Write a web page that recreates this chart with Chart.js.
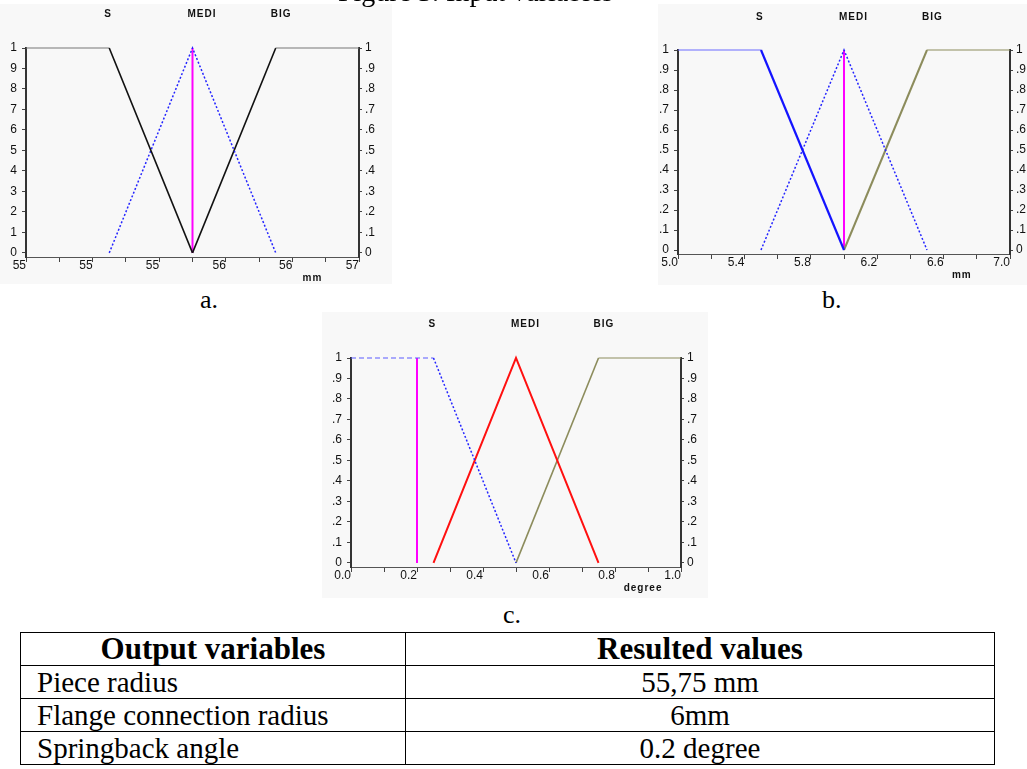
<!DOCTYPE html>
<html>
<head>
<meta charset="utf-8">
<script src="https://cdn.jsdelivr.net/npm/chart.js@4.4.1/dist/chart.umd.min.js"></script>
<style>
  body { margin: 0; width: 1027px; height: 769px; overflow: hidden; background: #fff; position: relative; font-family: "Liberation Serif", "Times New Roman", serif; }
  .box { position: absolute; background: #f8f8f8; }
  .cap { position: absolute; font-size: 26px; line-height: 26px; color: #000; }
  table { position: absolute; left: 20px; top: 632px; width: 974px; table-layout: fixed; border-collapse: collapse; font-size: 29px; }
  td, th { border: 1.5px solid #000; height: 32px; line-height: 30px; padding: 0 16px; white-space: nowrap; }
  th { font-weight: bold; text-align: center; font-size: 31px; }
  td.val { text-align: center; }
</style>
</head>
<body>
<div class="cap" style="left:338px; top:-22px; font-size:28px; line-height:28px; z-index:2;">Figure 3. Input variables</div>

<div class="box" style="left:0; top:4px; width:392px; height:280px;"><canvas id="chartA"></canvas></div>
<div class="box" style="left:658px; top:4px; width:369px; height:281px;"><canvas id="chartB"></canvas></div>
<div class="box" style="left:322px; top:312px; width:386px; height:286px;"><canvas id="chartC"></canvas></div>

<div class="cap" style="left:200px; top:287px;">a.</div>
<div class="cap" style="left:822px; top:287px;">b.</div>
<div class="cap" style="left:503px; top:602px;">c.</div>

<table>
  <colgroup><col style="width:385px"><col style="width:589px"></colgroup>
  <tr><th>Output variables</th><th>Resulted values</th></tr>
  <tr><td>Piece radius</td><td class="val">55,75 mm</td></tr>
  <tr><td>Flange connection radius</td><td class="val">6mm</td></tr>
  <tr><td>Springback angle</td><td class="val">0.2 degree</td></tr>
</table>

<script>
// term names shown above every chart
const termNames = ["S", "MEDI", "BIG"];

// membership axis (shared by all three)
const yTickVals = [0, 0.1, 0.2, 0.3, 0.4, 0.5, 0.6, 0.7, 0.8, 0.9, 1];
const yLabels = ["0", ".1", ".2", ".3", ".4", ".5", ".6", ".7", ".8", ".9", "1"];
const yLabelsCut = ["0", "1", "2", "3", "4", "5", "6", "7", "8", "9", "1"];  // chart a, left side is cropped

// a. piece radius (mm)
const aTickVals = [55, 55.15, 55.3, 55.45, 55.6, 55.75, 55.9, 56.05, 56.2, 56.35, 56.5];
const aTickLabels = ["55", "", "55", "", "55", "", "56", "", "56", "", "57"];
const aS = [[55, 1], [55.375, 1], [55.75, 0]];
const aMedi = [[55.375, 0], [55.75, 1], [56.125, 0]];
const aBig = [[55.75, 0], [56.125, 1], [56.5, 1]];
const aOut = [[55.75, 0], [55.75, 1]];
const aTermAt = [55.375, 55.75, 56.125];

// b. flange connection radius (mm)
const bTickVals = [5.0, 5.2, 5.4, 5.6, 5.8, 6.0, 6.2, 6.4, 6.6, 6.8, 7.0];
const bTickLabels = ["5.0", "", "5.4", "", "5.8", "", "6.2", "", "6.6", "", "7.0"];
const bS = [[5.0, 1], [5.5, 1], [6.0, 0]];
const bMedi = [[5.5, 0], [6.0, 1], [6.5, 0]];
const bBig = [[6.0, 0], [6.5, 1], [7.0, 1]];
const bOut = [[6.0, 0], [6.0, 1]];
const bTermAt = [5.5, 6.0, 6.5];

// c. springback angle (degree)
const cTickVals = [0, 0.1, 0.2, 0.3, 0.4, 0.5, 0.6, 0.7, 0.8, 0.9, 1.0];
const cTickLabels = ["0.0", "", "0.2", "", "0.4", "", "0.6", "", "0.8", "", "1.0"];
const cS = [[0, 1], [0.25, 1], [0.5, 0]];
const cMedi = [[0.25, 0], [0.5, 1], [0.75, 0]];
const cBig = [[0.5, 0], [0.75, 1], [1.0, 1]];
const cOut = [[0.2, 0], [0.2, 1]];
const cTermAt = [0.25, 0.5, 0.75];

// draws S / MEDI / BIG on top and the unit under the x axis
const termLabels = {
    id: "termLabels",
    afterDraw(chart, args, opts) {
        const ctx = chart.ctx;
        const x = chart.scales.x;
        const area = chart.chartArea;
        ctx.save();
        ctx.fillStyle = "#111";
        ctx.font = 'bold 10px "Liberation Sans"';
        ctx.letterSpacing = "1px";
        ctx.textBaseline = "middle";
        ctx.textAlign = "left";
        termNames.forEach((n, i) => {
            ctx.fillText(n, x.getPixelForValue(opts.at[i]) - 5, opts.y);
        });
        ctx.textAlign = "center";
        ctx.fillText(opts.unit, area.left + area.width * opts.unitAt, area.bottom + 21);
        ctx.restore();
    }
};

function line(pts, color, width, dash, top) {
    let ds = {
        data: pts.map(p => ({ x: p[0], y: p[1] })),
        borderColor: color,
        borderWidth: width,
        borderDash: dash || [],
        pointRadius: 0,
        fill: false,
        tension: 0,
        clip: 6
    };
    if (top) {
        // the flat shoulder at 1 is drawn thinner
        const flat = c => c.p0.parsed.y === 1 && c.p1.parsed.y === 1;
        ds.segment = {
            borderColor: c => flat(c) ? top.color : undefined,
            borderWidth: c => flat(c) ? top.width : undefined,
            borderDash: c => flat(c) ? (top.dash || []) : undefined
        };
    }
    return ds;
}

function yAxis(pos, labels, width, tick, pad) {
    return {
        type: "linear",
        position: pos,
        min: -0.02,
        max: 1,
        afterBuildTicks: s => { s.ticks = yTickVals.map(v => ({ value: v })); },
        afterFit: s => { s.width = width; },
        border: { display: true, color: "#333", width: 2 },
        grid: { drawOnChartArea: false, drawTicks: true, tickLength: tick, color: "#444" },
        ticks: {
            padding: pad,
            color: "#111",
            font: { family: "Liberation Sans", size: 12 },
            callback: (v, i) => labels[i]
        }
    };
}

function makeChart(id, c) {
    new Chart(document.getElementById(id), {
        type: "line",
        data: { datasets: c.datasets },
        plugins: [termLabels],
        options: {
            responsive: true,
            maintainAspectRatio: false,
            animation: false,
            events: [],
            layout: { padding: { top: c.top, left: 0, right: 0, bottom: 0 } },
            plugins: {
                legend: { display: false },
                tooltip: { enabled: false },
                termLabels: { at: c.termAt, y: c.termY, unit: c.unit, unitAt: c.unitAt }
            },
            scales: {
                x: {
                    type: "linear",
                    min: c.xTicks[0],
                    max: c.xTicks[c.xTicks.length - 1],
                    afterBuildTicks: s => { s.ticks = c.xTicks.map(v => ({ value: v })); },
                    afterFit: s => { s.height = c.xh; },
                    border: { display: true, color: "#555", width: 1 },
                    grid: { drawOnChartArea: false, drawTicks: true, tickLength: 5, color: "#444" },
                    ticks: {
                        align: "end",
                        padding: -4,
                        maxRotation: 0,
                        autoSkip: false,
                        color: "#111",
                        font: { family: "Liberation Sans", size: 12 },
                        callback: (v, i) => c.xLabels[i]
                    }
                },
                y: yAxis("left", c.yLeft, c.lw, 4, 5),
                y2: yAxis("right", yLabels, c.rw, 3, 3)
            }
        }
    });
}

const blue = "#2424ff";
const olive = "#8c8c5c";
const pink = "#ff00ff";
const dots = [2, 2];

makeChart("chartA", {
    xTicks: aTickVals, xLabels: aTickLabels, yLeft: yLabelsCut,
    top: 44, lw: 26, rw: 33, xh: 27, termAt: aTermAt, termY: 10, unit: "mm", unitAt: 0.86,
    datasets: [
        line(aS, "#111", 1.6, null, { color: "#777", width: 1 }),
        line(aMedi, blue, 1.5, dots),
        line(aBig, "#111", 1.6, null, { color: "#777", width: 1 }),
        line(aOut, pink, 2)
    ]
});

makeChart("chartB", {
    xTicks: bTickVals, xLabels: bTickLabels, yLeft: yLabels,
    top: 46, lw: 20, rw: 17, xh: 31, termAt: bTermAt, termY: 13, unit: "mm", unitAt: 0.855,
    datasets: [
        line(bS, "#1414ff", 2.2, null, { color: "#6a6aff", width: 1 }),
        line(bMedi, blue, 1.5, dots),
        line(bBig, olive, 2, null, { color: olive, width: 1 }),
        line(bOut, pink, 2)
    ]
});

makeChart("chartC", {
    xTicks: cTickVals, xLabels: cTickLabels, yLeft: yLabels,
    top: 46, lw: 29, rw: 27, xh: 31, termAt: cTermAt, termY: 12, unit: "degree", unitAt: 0.885,
    datasets: [
        line(cS, blue, 1.5, dots, { color: "#5a5aff", width: 1, dash: [5, 3] }),
        line(cMedi, "#ff1010", 2, null),
        line(cBig, olive, 1.6, null, { color: olive, width: 1 }),
        line(cOut, pink, 2)
    ]
});
</script>
</body>
</html>
